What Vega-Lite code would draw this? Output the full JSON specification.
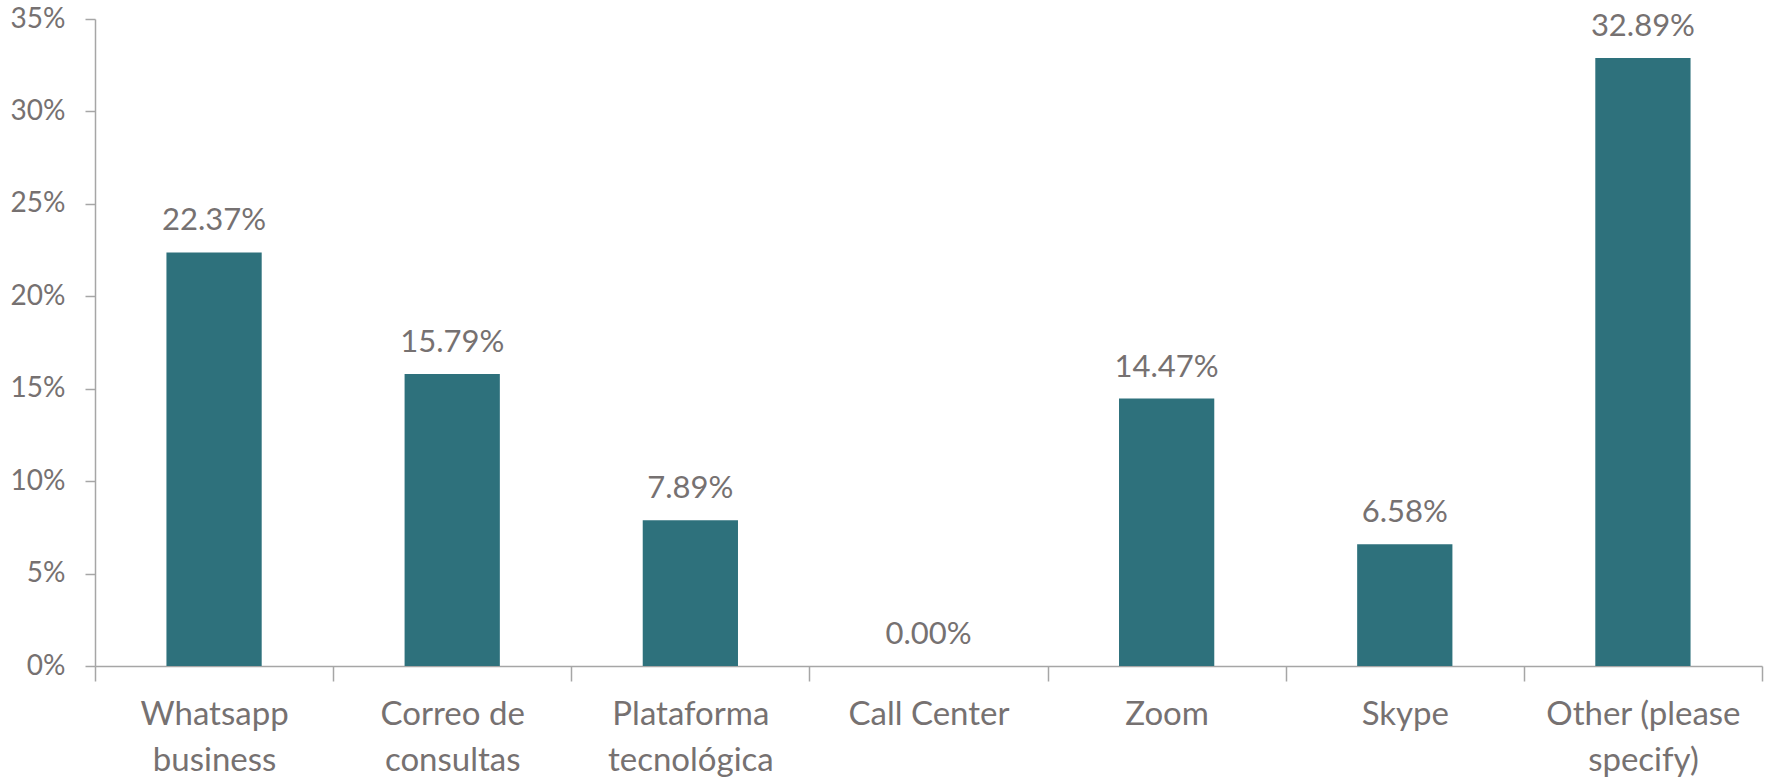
{
  "$schema": "https://vega.github.io/schema/vega-lite/v6.json",
  "width": 1667,
  "height": 647,
  "autosize": {"type": "none"},
  "padding": {"left": 95, "top": 19, "right": 9, "bottom": 113},
  "background": "white",
  "config": {"view": {"stroke": null}, "font": "Lato"},
  "data": {"values": [
    {"canal": "Whatsapp\nbusiness", "pct": 0.2237},
    {"canal": "Correo de\nconsultas", "pct": 0.1579},
    {"canal": "Plataforma\ntecnológica", "pct": 0.0789},
    {"canal": "Call Center", "pct": 0.0},
    {"canal": "Zoom", "pct": 0.1447},
    {"canal": "Skype", "pct": 0.0658},
    {"canal": "Other (please\nspecify)", "pct": 0.3289}
  ]},
  "encoding": {
    "x": {
      "field": "canal", "type": "nominal", "sort": null,
      "scale": {"paddingInner": 0, "paddingOuter": 0},
      "axis": {
        "title": null, "labelAngle": 0, "labelExpr": "datum.value ? split(datum.value, '\\n') : ''",
        "labelFont": "Lato", "labelFontSize": 33, "labelColor": "#767171",
        "labelLineHeight": 46, "labelPadding": 17, "labelLimit": 500,
        "tickBand": "extent", "tickSize": 15, "tickColor": "#a6a6a6", "tickWidth": 1.5,
        "domainColor": "#a6a6a6", "domainWidth": 1.5, "grid": false
      }
    },
    "y": {
      "field": "pct", "type": "quantitative",
      "scale": {"domain": [0, 0.35], "nice": false},
      "axis": {
        "title": null, "format": ".0%", "values": [0, 0.05, 0.1, 0.15, 0.2, 0.25, 0.3, 0.35],
        "labelFont": "Lato", "labelFontSize": 28, "labelColor": "#767171", "labelPadding": 20,
        "tickSize": 10, "tickColor": "#a6a6a6", "tickWidth": 1.5,
        "domainColor": "#a6a6a6", "domainWidth": 1.5, "grid": false
      }
    }
  },
  "layer": [
    {"mark": {"type": "bar", "color": "#2e717c", "width": {"band": 0.4}}},
    {
      "mark": {"type": "text", "baseline": "alphabetic", "dy": -22, "fontSize": 31, "color": "#767171", "font": "Lato"},
      "encoding": {"text": {"field": "pct", "type": "quantitative", "format": ".2%"}}
    }
  ]
}
